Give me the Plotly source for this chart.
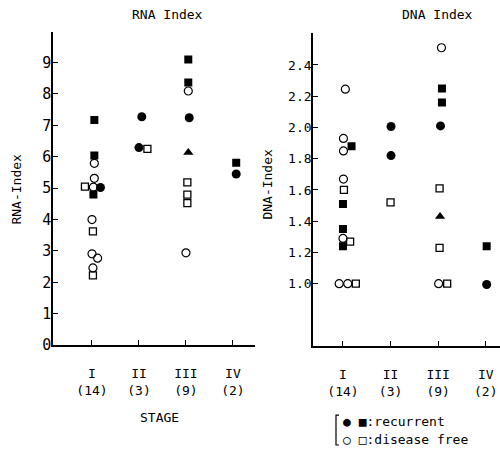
import plotly.graph_objects as go

stage_labels = ["I<br>(14)", "II<br>(3)", "III<br>(9)", "IV<br>(2)"]
stages = [1, 2, 3, 4]

# RNA index points: stage, value, group, horizontal offset (category units)
rna_stage = [1,1,1,1,1,1,1,1,1,1,1,1,1,1, 2,2,2, 3,3,3,3,3,3,3,3,3, 4,4]
rna_value = [7.17,6.04,5.79,5.31,5.05,5.03,5.02,4.80,4.00,3.62,2.91,2.77,2.46,2.22,
             7.27,6.29,6.25,
             9.09,8.36,8.09,7.24,6.13,5.18,4.79,4.52,2.94,
             5.81,5.45]
rna_group = ["rs","rs","fc","fc","fs","fc","rc","rs","fc","fs","fc","fc","fc","fs",
             "rc","rc","fs",
             "rs","rs","fc","rc","tr","fs","fs","fs","fc",
             "rs","rc"]
rna_dx = [0.05,0.05,0.05,0.05,-0.15,0.03,0.18,0.03,0.0,0.02,0.0,0.12,0.02,0.02,
          0.06,0.0,0.18,
          0.05,0.05,0.05,0.07,0.05,0.03,0.03,0.03,0.0,
          0.07,0.07]

# DNA index points
dna_stage = [1,1,1,1,1,1,1,1,1,1,1,1,1,1, 2,2,2, 3,3,3,3,3,3,3,3,3, 4,4]
dna_value = [2.245,1.93,1.88,1.85,1.67,1.60,1.51,1.35,1.29,1.27,1.24,1.0,1.0,1.0,
             2.006,1.82,1.52,
             2.51,2.25,2.16,2.01,1.61,1.43,1.23,1.0,1.0,
             1.24,0.995]
dna_group = ["fc","fc","rs","fc","fc","fs","rs","rs","fc","fs","rs","fc","fc","fs",
             "rc","rc","fs",
             "fc","rs","rs","rc","fs","tr","fs","fc","fs",
             "rs","rc"]
dna_dx = [0.05,0.01,0.18,0.01,0.01,0.02,0.0,0.0,0.0,0.15,0.0,-0.08,0.1,0.27,
          0.01,0.01,0.0,
          0.07,0.08,0.08,0.05,0.03,0.04,0.03,0.01,0.19,
          0.02,0.02]

styles = {
    "rc": dict(symbol="circle", size=9, color="black"),
    "rs": dict(symbol="square", size=8, color="black"),
    "fc": dict(symbol="circle-open", size=8, color="black", line=dict(width=1.2, color="black")),
    "fs": dict(symbol="square-open", size=7, color="black", line=dict(width=1.3, color="black")),
    "tr": dict(symbol="triangle-up", size=9, color="black"),
}

FONT = "DejaVu Sans Mono"
W, H = 500, 446  # H: effective vertical scale observed in the rendered picture
fig = go.Figure()

def add_panel(st, val, grp, dx, xa, ya):
    for g, sty in styles.items():
        xs = [s + d for s, d, gg in zip(st, dx, grp) if gg == g]
        ys = [v for v, gg in zip(val, grp) if gg == g]
        if not xs:
            continue
        fig.add_trace(go.Scatter(x=xs, y=ys, mode="markers", marker=sty,
                                 xaxis=xa, yaxis=ya, showlegend=False, hoverinfo="skip"))

add_panel(rna_stage, rna_value, rna_group, rna_dx, "x", "y")
add_panel(dna_stage, dna_value, dna_group, dna_dx, "x2", "y2")

axis_common = dict(showline=True, linecolor="black", linewidth=1.6, ticks="inside",
                   ticklen=5, tickwidth=1.2, tickcolor="black", showgrid=False,
                   zeroline=False, mirror=False)

fig.update_layout(
    width=500, height=454, autosize=False, margin=dict(l=0, r=0, t=0, b=0),
    paper_bgcolor="white", plot_bgcolor="white",
    font=dict(family=FONT, size=13, color="black"),
    xaxis=dict(domain=[53/W, 255/W], range=[0.17, 4.47], tickvals=stages,
               ticktext=stage_labels, tickfont=dict(size=13), ticklabelstandoff=15,
               anchor="y", **axis_common),
    yaxis=dict(domain=[1-346/H, 1-32/H], range=[0, 9.97], tickvals=list(range(0, 10)),
               tickfont=dict(size=15), ticklabelstandoff=-3, anchor="x", **axis_common),
    xaxis2=dict(domain=[313/W, 1.0], range=[0.37, 4.3], tickvals=stages,
                ticktext=stage_labels, tickfont=dict(size=13), ticklabelstandoff=15,
                anchor="y2", **axis_common),
    yaxis2=dict(domain=[1-347/H, 1-33/H], range=[0.6, 2.605],
                tickvals=[1.0,1.2,1.4,1.6,1.8,2.0,2.2,2.4],
                ticktext=["1.0","1.2","1.4","1.6","1.8","2.0","2.2","2.4"],
                tickfont=dict(size=13), ticklabelstandoff=-3, anchor="x2", **axis_common),
)

ann = [
    dict(text="RNA Index", x=167/W, y=1-15/H),
    dict(text="DNA Index", x=437/W, y=1-15/H),
    dict(text="RNA-Index", x=17/W, y=1-190/H, textangle=-90),
    dict(text="DNA-Index", x=268/W, y=1-185/H, textangle=-90),
    dict(text="STAGE", x=159/W, y=1-418/H),
    dict(text="●&#8202;■:recurrent", x=341/W, y=1-422/H, xanchor="left"),
    dict(text="○&#8202;□:disease free", x=341/W, y=1-440/H, xanchor="left"),
]
for a in ann:
    a.setdefault("xanchor", "center")
    fig.add_annotation(xref="paper", yref="paper", showarrow=False, yanchor="middle",
                       font=dict(family=FONT, size=13, color="black"), **a)

fig.add_shape(type="path", xref="paper", yref="paper",
              path=f"M {339/W} {1-416/H} L {336/W} {1-416/H} L {336/W} {1-446/H} L {339/W} {1-446/H}",
              line=dict(color="black", width=1.2))

fig.write_html("out.html", config={"displayModeBar": False, "responsive": False},
               post_script="document.body.style.margin='0';document.body.style.overflow='hidden';")
